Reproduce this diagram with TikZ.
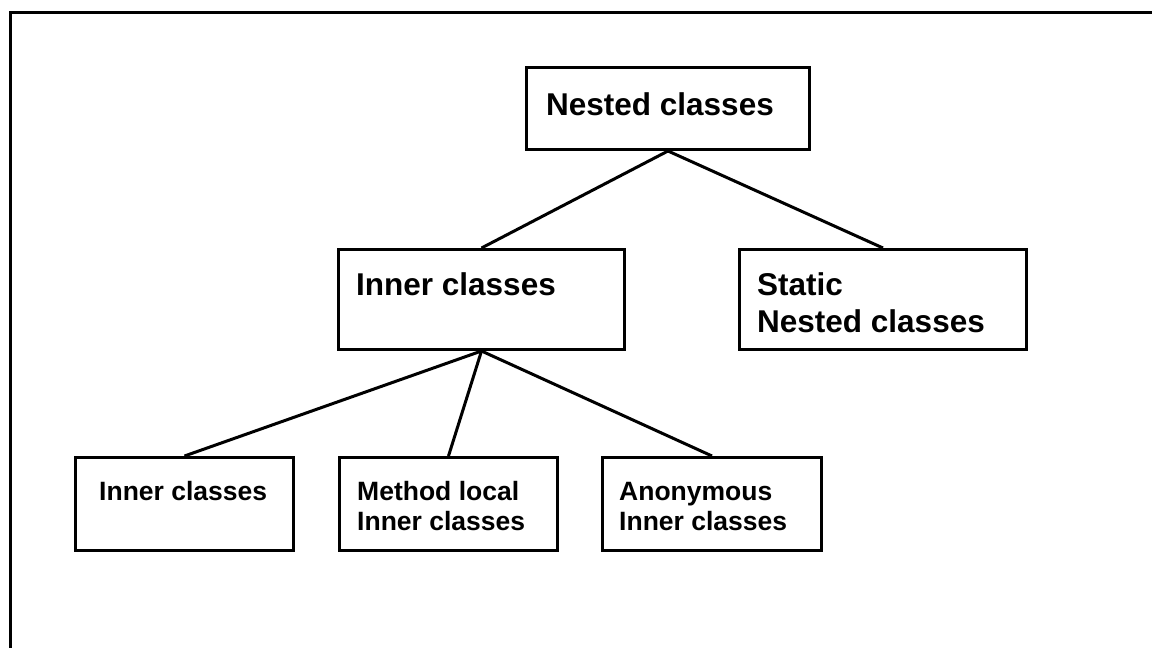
\documentclass[tikz,border=0pt]{standalone}
\usepackage{fontspec}
\setmainfont{Liberation Sans}
\tikzset{
  box/.style={draw=black, line width=3pt, fill=white, rectangle, inner sep=0pt, anchor=north west},
  bigtxt/.style={anchor=base west, inner sep=0pt, font=\bfseries\fontsize{31.5}{37}\selectfont, align=left},
  smalltxt/.style={anchor=base west, inner sep=0pt, font=\bfseries\fontsize{26.5}{30}\selectfont, align=left},
  link/.style={draw=black, line width=3pt}
}
\begin{document}
\begin{tikzpicture}[x=1pt,y=-1pt]
\useasboundingbox (0,0) rectangle (1152,648);
\clip (0,0) rectangle (1152,648);
\fill[white] (0,0) rectangle (1152,648);
\draw[line width=3pt] (10,12) rectangle (1170,680);
% boxes
\node[box, minimum width=283pt, minimum height=82pt] (nested) at (525,66) {};
\node[box, minimum width=286pt, minimum height=100pt] (inner) at (337,248) {};
\node[box, minimum width=287pt, minimum height=100pt] (static) at (738,248) {};
\node[box, minimum width=218pt, minimum height=93pt] (bin) at (74,456) {};
\node[box, minimum width=218pt, minimum height=93pt] (meth) at (338,456) {};
\node[box, minimum width=219pt, minimum height=93pt] (anon) at (601,456) {};
% texts
\node[bigtxt] (tnested) at (546,115) {Nested classes};
\node[bigtxt] (tinner) at (356,295) {Inner classes};
\node[bigtxt] (tstatic) at (757,332) {Static\\Nested classes};
\node[smalltxt] (tbin) at (99,500) {Inner classes};
\node[smalltxt] (tmeth) at (357,530) {Method local\\Inner classes};
\node[smalltxt] (tanon) at (619,530) {Anonymous\\Inner classes};
% connectors
\draw[link] (nested.south) -- (inner.north);
\draw[link] (nested.south) -- (static.north);
\draw[link] (inner.south) -- (bin.north);
\draw[link] (inner.south) -- (meth.north);
\draw[link] (inner.south) -- (anon.north);
\end{tikzpicture}
\end{document}
